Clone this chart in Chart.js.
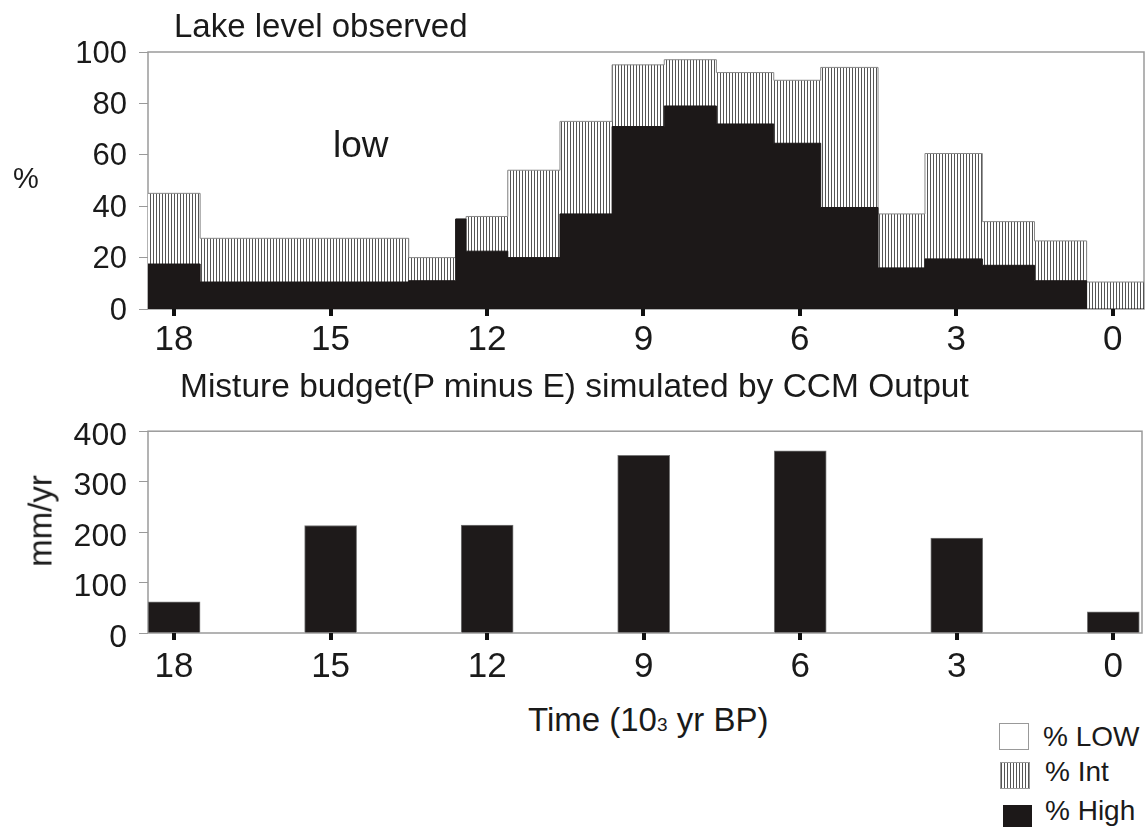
<!DOCTYPE html>
<html>
<head>
<meta charset="utf-8">
<title>Lake level observed / CCM P-E</title>
<script src="https://cdn.jsdelivr.net/npm/chart.js@4.4.0/dist/chart.umd.min.js"></script>
<style>
    body { margin: 0; background: #fff; }
    #page { position: relative; width: 1147px; height: 827px; overflow: hidden;
            font-family: "Liberation Sans", Arial, sans-serif; color: #1a1a1a; }
    #page canvas, #page .txt, #page .box { position: absolute; }
    .txt { line-height: 1; white-space: nowrap; }
    .box { box-sizing: border-box; }
</style>
</head>
<body>
<div id="page">
    <canvas id="lakeChart" width="1147" height="360" style="left:0;top:0"></canvas>
    <canvas id="ccmChart" width="1147" height="300" style="left:0;top:400px"></canvas>

    <div class="txt" style="left:174px;top:9px;font-size:33px">Lake level observed</div>
    <div class="txt" style="left:13px;top:164px;font-size:29px">%</div>
    <div class="txt" style="left:333px;top:126px;font-size:37px">low</div>
    <div class="txt" style="left:180px;top:369px;font-size:33.5px">Misture budget(P minus E) simulated by CCM Output</div>
    <div class="txt" style="left:40px;top:521px;font-size:33px;transform:translate(-50%,-50%) rotate(-90deg)">mm/yr</div>
    <div class="txt" style="left:528px;top:703px;font-size:33px">Time (10<span style="font-size:19px">3</span> yr BP)</div>

    <div class="box" style="left:999px;top:723px;width:30px;height:27px;border:1px solid #999;background:#fff"></div>
    <div class="box" style="left:1000px;top:762px;width:30px;height:27px;border:1px solid #999;background:repeating-linear-gradient(90deg,#555 0 1px,#fff 1px 3px)"></div>
    <div class="box" style="left:1003px;top:805px;width:29px;height:24px;background:#1c1818"></div>
    <div class="txt" style="left:1043px;top:723px;font-size:28px">% LOW</div>
    <div class="txt" style="left:1045px;top:758px;font-size:28px">% Int</div>
    <div class="txt" style="left:1045px;top:797px;font-size:28px">% High</div>
</div>

<script>
// Lake level observed: step boundaries in 10^3 yr BP (old -> young)
const lakeEdges = [18.5, 17.5, 13.5, 12.6, 12.4, 11.6, 10.6, 9.6, 8.6, 7.6, 6.5, 5.6, 4.5, 3.6, 2.5, 1.5, 0.5, -0.6];
// % of lakes with high level, and % intermediate (stacked on high)
const highPct = [17.5, 10.5, 11, 35, 22.5, 20, 37, 71, 79, 72, 64.5, 39.5, 16, 19.5, 17, 11, 0];
const intPct = [27.5, 17, 9, 0, 13.5, 34, 36, 24, 18, 20, 24.5, 54.5, 21, 41, 17, 15.5, 10.5];

// CCM simulated P minus E (mm/yr)
const ccmTimes = [18, 15, 12, 9, 6, 3, 0];
const ccmPE = [62, 213, 214, 352, 361, 188, 42];

const timeTicks = [18, 15, 12, 9, 6, 3, 0];
const FONT = '"Liberation Sans", Arial, sans-serif';
const INK = '#1a1a1a';
const FRAME = '#9a9a9a';

Chart.defaults.font.family = FONT;
Chart.defaults.color = INK;

// gray box round the plot area, black stubs under the time ticks
const framePlugin = {
    id: 'frame',
    beforeDatasetsDraw(chart) {
        const a = chart.chartArea;
        const ctx = chart.ctx;
        ctx.save();
        ctx.strokeStyle = FRAME;
        ctx.lineWidth = 1.5;
        ctx.strokeRect(a.left, a.top, a.right - a.left, a.bottom - a.top);
        ctx.restore();
    },
    afterDatasetsDraw(chart) {
        const a = chart.chartArea;
        const x = chart.scales.x;
        const ctx = chart.ctx;
        ctx.save();
        ctx.fillStyle = '#111';
        x.ticks.forEach(t => {
            const px = Math.round(x.getPixelForValue(t.value));
            ctx.fillRect(px - 2, a.bottom, 4, 7);
        });
        ctx.restore();
    }
};

function stripes() {
    const c = document.createElement('canvas');
    c.width = 3;
    c.height = 8;
    const g = c.getContext('2d');
    g.fillStyle = '#fff';
    g.fillRect(0, 0, 3, 8);
    g.fillStyle = '#555';
    g.fillRect(0, 0, 1, 8);
    return g.createPattern(c, 'repeat');
}

// one point per left edge, plus the closing edge
function stepPoints(values) {
    const pts = values.map((v, i) => ({ x: lakeEdges[i], y: v }));
    pts.push({ x: lakeEdges[lakeEdges.length - 1], y: values[values.length - 1] });
    return pts;
}

function timeAxis(min, max, boxHeight, pad) {
    return {
        type: 'linear',
        reverse: true,
        offset: false,
        min: min,
        max: max,
        afterBuildTicks: s => { s.ticks = timeTicks.map(v => ({ value: v })); },
        afterFit: s => { s.height = boxHeight; },
        border: { display: false },
        grid: { offset: false, drawOnChartArea: false, drawTicks: true, tickLength: 7, color: 'rgba(0,0,0,0)' },
        ticks: { autoSkip: false, maxRotation: 0, minRotation: 0, padding: pad,
                 font: { size: 35 }, color: INK, callback: v => String(v) }
    };
}

function valueAxis(max, step, size, shift) {
    return {
        min: 0,
        max: max,
        afterFit: s => { s.width = 148; },
        border: { display: false },
        grid: { drawOnChartArea: false, drawTicks: true, tickLength: 9, tickColor: FRAME },
        ticks: { stepSize: step, padding: 12, labelOffset: shift, font: { size: size }, color: INK }
    };
}

function plotLake() {
    const ctx = document.getElementById('lakeChart').getContext('2d');
    const intTop = highPct.map((h, i) => h + intPct[i]);
    new Chart(ctx, {
        type: 'line',
        data: {
            datasets: [{
                label: '% High',
                data: stepPoints(highPct),
                stepped: true,
                fill: 'origin',
                backgroundColor: '#1c1818',
                borderColor: '#1c1818',
                borderWidth: 1,
                pointRadius: 0
            }, {
                label: '% Int',
                data: stepPoints(intTop),
                stepped: true,
                fill: 'origin',
                backgroundColor: stripes(),
                borderColor: '#888',
                borderWidth: 1,
                pointRadius: 0
            }]
        },
        options: {
            responsive: false,
            animation: false,
            layout: { padding: { top: 52, right: 3, left: 0, bottom: 0 } },
            plugins: { legend: { display: false }, tooltip: { enabled: false } },
            scales: {
                x: timeAxis(-0.6, 18.5, 51, 3),
                y: valueAxis(100, 20, 31, 2)
            }
        },
        plugins: [framePlugin]
    });
}

function plotCCM() {
    const ctx = document.getElementById('ccmChart').getContext('2d');
    new Chart(ctx, {
        type: 'bar',
        data: {
            datasets: [{
                label: 'P minus E',
                data: ccmTimes.map((t, i) => ({ x: t, y: ccmPE[i] })),
                backgroundColor: '#1e1a1a',
                borderColor: '#777',
                borderWidth: 1,
                barThickness: 52
            }]
        },
        options: {
            responsive: false,
            animation: false,
            layout: { padding: { top: 22, right: 5, left: 0, bottom: 0 } },
            plugins: { legend: { display: false }, tooltip: { enabled: false } },
            scales: {
                x: timeAxis(-0.55, 18.5, 67, 6),
                y: valueAxis(400, 100, 32, 5)
            }
        },
        plugins: [framePlugin]
    });
}

plotLake();
plotCCM();
</script>
</body>
</html>
